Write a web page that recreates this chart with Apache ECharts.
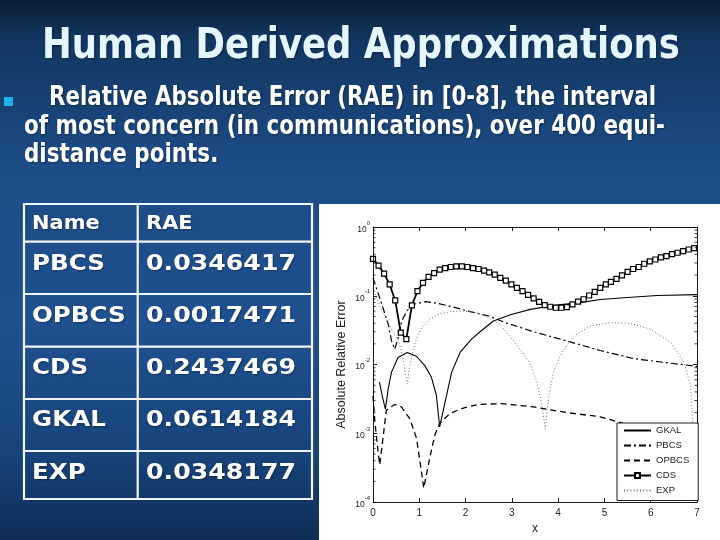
<!DOCTYPE html>
<html><head><meta charset="utf-8">
<script src="https://cdn.jsdelivr.net/npm/echarts@6/dist/echarts.min.js"></script>
<style>html,body{margin:0;padding:0;background:#163f70;}#c{width:720px;height:540px;}</style>
</head><body><div id="c"></div>
<script>
// ---------- text content ----------
const titleText = 'Human Derived Approximations';
const bulletLines = ['Relative Absolute Error (RAE) in [0-8], the interval',
  'of most concern (in communications), over 400 equi-',
  'distance points.'];
const tableHeader = ['Name', 'RAE'];
const tableNames = ['PBCS', 'OPBCS', 'CDS', 'GKAL', 'EXP'];
const tableRAE = ['0.0346417', '0.0017471', '0.2437469', '0.0614184', '0.0348177'];

// ---------- chart data ----------
const seriesNames = ['GKAL', 'PBCS', 'OPBCS', 'CDS', 'EXP'];

const gkalX = [0.14, 0.2, 0.267, 0.33, 0.40, 0.54, 0.74, 0.94, 1.12, 1.26, 1.37, 1.44, 1.55, 1.70, 1.88, 2.13, 2.32, 2.60, 2.97, 3.40, 3.90, 4.48, 4.91, 5.42, 6.14, 7.0];
const gkalY = [0.00555, 0.0035, 0.00224, 0.0045, 0.00776, 0.0127, 0.0150, 0.0132, 0.00964, 0.0066, 0.00355, 0.00124, 0.0027, 0.00776, 0.015, 0.0234, 0.0302, 0.043, 0.053, 0.0634, 0.0724, 0.0794, 0.0885, 0.0935, 0.101, 0.104];

const pbcsX = [0, 0.1, 0.2, 0.33, 0.40, 0.47, 0.55, 0.62, 0.73, 0.87, 1.13, 1.38, 1.74, 2.10, 2.50, 2.86, 3.47, 4.19, 4.91, 5.63, 6.36, 7.0];
const pbcsY = [0.182, 0.115, 0.072, 0.0385, 0.0221, 0.0168, 0.025, 0.043, 0.06, 0.075, 0.082, 0.078, 0.0685, 0.0587, 0.0508, 0.0407, 0.03, 0.022, 0.016, 0.0122, 0.0106, 0.0094];

const opbcsX = [0, 0.04, 0.093, 0.145, 0.216, 0.288, 0.47, 0.614, 0.794, 0.94, 1.046, 1.097, 1.227, 1.335, 1.44, 1.66, 1.91, 2.27, 2.78, 3.47, 4.19, 4.91, 5.4, 6.0, 6.5, 7.0];
const opbcsY = [0.0035, 0.0015, 0.00068, 0.00035, 0.00085, 0.00216, 0.00263, 0.00242, 0.00164, 0.00085, 0.00028, 0.00016, 0.00044, 0.00094, 0.00139, 0.00194, 0.00229, 0.00263, 0.0027, 0.00242, 0.002, 0.00174, 0.0014, 0.0012, 0.00105, 0.0009];

const cdsX = [0, 0.12, 0.24, 0.36, 0.48, 0.60, 0.72, 0.84, 0.96, 1.08, 1.20, 1.32, 1.44, 1.56, 1.68, 1.80, 1.92, 2.04, 2.16, 2.28, 2.40, 2.51, 2.63, 2.75, 2.87, 2.99, 3.11, 3.23, 3.35, 3.47, 3.59, 3.71, 3.83, 3.95, 4.07, 4.19, 4.31, 4.43, 4.55, 4.67, 4.79, 4.91, 5.03, 5.14, 5.26, 5.38, 5.50, 5.62, 5.74, 5.86, 5.98, 6.10, 6.22, 6.34, 6.46, 6.58, 6.70, 6.82, 6.94];
const cdsY = [0.345, 0.274, 0.21, 0.146, 0.0855, 0.0292, 0.0234, 0.0724, 0.117, 0.154, 0.188, 0.214, 0.24, 0.253, 0.262, 0.268, 0.268, 0.262, 0.253, 0.245, 0.232, 0.219, 0.203, 0.182, 0.166, 0.146, 0.13, 0.117, 0.103, 0.0914, 0.0818, 0.0732, 0.0693, 0.067, 0.067, 0.0685, 0.075, 0.082, 0.089, 0.101, 0.114, 0.13, 0.146, 0.159, 0.176, 0.198, 0.222, 0.245, 0.262, 0.292, 0.316, 0.337, 0.361, 0.378, 0.404, 0.422, 0.446, 0.471, 0.492];

const expX = [0, 0.15, 0.26, 0.37, 0.47, 0.56, 0.64, 0.70, 0.74, 0.79, 0.86, 0.96, 1.05, 1.23, 1.45, 1.70, 1.95, 2.20, 2.45, 2.75, 3.04, 3.25, 3.40, 3.54, 3.65, 3.72, 3.79, 3.90, 4.08, 4.34, 4.70, 5.13, 5.56, 5.99, 6.43, 6.72, 6.86, 6.92];
const expY = [0.13, 0.072, 0.05, 0.036, 0.027, 0.0215, 0.013, 0.0075, 0.0052, 0.009, 0.016, 0.026, 0.034, 0.046, 0.055, 0.059, 0.06, 0.058, 0.05, 0.038, 0.022, 0.0142, 0.0102, 0.0056, 0.0026, 0.00115, 0.0032, 0.0078, 0.015, 0.0261, 0.0364, 0.0407, 0.0398, 0.0327, 0.021, 0.0108, 0.005, 0.0011];

const decades = [1e-4, 1e-3, 1e-2, 1e-1];
const minorMultipliers = [2, 3, 4, 5, 6, 7, 8, 9];

// ---------- helpers ----------
const zip = (xs, ys) => xs.map((x, i) => [x, ys[i]]);
const mctx = document.createElement('canvas').getContext('2d');
function measure(text, font) { mctx.font = font; return mctx.measureText(text).width; }

const SLIDE_FONT = '"DejaVu Sans"';
const PLOT_FONT = '"Liberation Sans", Arial, sans-serif';

function fitText(text, left, baseline, size, targetW, fill, scaleOverride) {
  const font = 'bold ' + size + 'px ' + SLIDE_FONT;
  const s = scaleOverride || targetW / measure(text, font);
  return {
    type: 'text', x: left, y: baseline - size * 0.36, scaleX: s, z: 5,
    style: { text: text, x: 0, y: 0, font: font, fill: fill, textAlign: 'left', textVerticalAlign: 'middle',
      textShadowColor: 'rgba(0,0,0,0.35)', textShadowBlur: 2, textShadowOffsetX: 1, textShadowOffsetY: 1 }
  };
}

const graphics = [];
// background
graphics.push({ type: 'rect', z: -10, shape: { x: 0, y: 0, width: 720, height: 540 },
  style: { fill: new echarts.graphic.LinearGradient(0, 0, 0, 1, [
    { offset: 0, color: '#0a1c34' }, { offset: 0.07, color: '#123660' },
    { offset: 0.3, color: '#1d4c86' }, { offset: 0.6, color: '#1f5190' },
    { offset: 0.85, color: '#174379' }, { offset: 1, color: '#0f2e57' }]) } });
// white chart panel
graphics.push({ type: 'rect', z: -9, shape: { x: 319, y: 204, width: 401, height: 336 }, style: { fill: '#ffffff' } });

// title
graphics.push(fitText(titleText, 42, 62, 42, 638, '#e4f6ff'));
// bullet
graphics.push({ type: 'rect', z: 5, shape: { x: 4, y: 97, width: 9, height: 9 }, style: { fill: '#1cb4e8' } });
graphics.push(fitText(bulletLines[0], 49, 108, 26, 607, '#ffffff'));
const bodyScale = 641 / measure(bulletLines[1], 'bold 26px ' + SLIDE_FONT);
graphics.push(fitText(bulletLines[1], 24, 137, 26, 641, '#ffffff'));
graphics.push(fitText(bulletLines[2], 24, 165, 26, 0, '#ffffff', bodyScale));

// table
const tL = 24, tR = 312, tT = 204, tB = 499, tMid = 137.7;
const rowLines = [241.7, 294, 346.7, 399, 451];
const tableStroke = { stroke: '#f2f6fb', lineWidth: 2.2, fill: null };
graphics.push({ type: 'rect', z: 4, shape: { x: tL, y: tT, width: tR - tL, height: tB - tT }, style: tableStroke });
rowLines.forEach(y => graphics.push({ type: 'line', z: 4, shape: { x1: tL, y1: y, x2: tR, y2: y }, style: tableStroke }));
graphics.push({ type: 'line', z: 4, shape: { x1: tMid, y1: tT, x2: tMid, y2: tB }, style: tableStroke });

const headScale = 67.7 / measure(tableHeader[0], 'bold 20px ' + SLIDE_FONT);
graphics.push(fitText(tableHeader[0], 32, 231, 20, 0, '#ffffff', headScale));
graphics.push(fitText(tableHeader[1], 146, 231, 20, 0, '#ffffff', headScale));
const nameScale = 93.7 / measure('OPBCS', 'bold 22px ' + SLIDE_FONT);
const valScale = 150 / measure(tableRAE[0], 'bold 22px ' + SLIDE_FONT);
const rowBaselines = [272.3, 324.3, 376.7, 428.3, 481];
tableNames.forEach((n, i) => {
  graphics.push(fitText(n, 32, rowBaselines[i], 22, 0, '#ffffff', nameScale));
  graphics.push(fitText(tableRAE[i], 146, rowBaselines[i], 22, 0, '#ffffff', valScale));
});

// ---------- chart ----------
const minorTicks = [];
decades.forEach(d => minorMultipliers.forEach(m => minorTicks.push([0, d * m])));

const axisCommon = {
  min: 0, max: 7, interval: 1, z: 5,
  axisLine: { show: true, onZero: false, lineStyle: { color: '#000', width: 0.9 } },
  axisTick: { show: true, inside: true, length: 4, lineStyle: { color: '#000', width: 0.9 } },
  splitLine: { show: false }
};
const yCommon = {
  type: 'log', logBase: 10, min: 1e-4, max: 1, splitNumber: 4, z: 5,
  axisLine: { show: true, onZero: false, lineStyle: { color: '#000', width: 0.9 } },
  axisTick: { show: true, inside: true, length: 4, lineStyle: { color: '#000', width: 0.9 } },
  splitLine: { show: false }
};

const hiddenSymbol = { opacity: 0 };
const option = {
  animation: false,
  graphic: graphics,
  textStyle: { fontFamily: PLOT_FONT },
  grid: { left: 373, top: 227, width: 324, height: 277, containLabel: false },
  xAxis: [
    Object.assign({}, axisCommon, { type: 'value', position: 'bottom',
      axisLabel: { show: true, color: '#222', fontSize: 10, margin: 6, fontFamily: PLOT_FONT },
      name: 'x', nameLocation: 'middle', nameGap: 18,
      nameTextStyle: { color: '#222', fontSize: 12, fontFamily: PLOT_FONT } }),
    Object.assign({}, axisCommon, { type: 'value', position: 'top', axisLabel: { show: false } })
  ],
  yAxis: [
    Object.assign({}, yCommon, { position: 'left',
      name: 'Absolute Relative Error', nameLocation: 'middle', nameGap: 25,
      nameTextStyle: { color: '#222', fontSize: 12.5, fontFamily: PLOT_FONT },
      axisLabel: { show: true, margin: 3, color: '#222',
        formatter: v => '{b|10}{s|' + Math.round(Math.log10(v)) + '}',
        rich: { b: { fontSize: 8.5, color: '#222', lineHeight: 14, verticalAlign: 'bottom', fontFamily: PLOT_FONT },
                s: { fontSize: 6, color: '#222', lineHeight: 14, verticalAlign: 'top', fontFamily: PLOT_FONT } } } }),
    Object.assign({}, yCommon, { position: 'right', axisLabel: { show: false } })
  ],
  legend: {
    data: [
      { name: 'GKAL', itemStyle: hiddenSymbol },
      { name: 'PBCS', itemStyle: hiddenSymbol },
      { name: 'OPBCS', itemStyle: hiddenSymbol },
      { name: 'CDS' },
      { name: 'EXP', itemStyle: hiddenSymbol }
    ],
    orient: 'vertical', left: 617, top: 423, z: 10,
    backgroundColor: '#ffffff', borderColor: '#000', borderWidth: 0.9,
    padding: [2, 9, 4.5, 6], itemWidth: 27, itemHeight: 6, itemGap: 4,
    textStyle: { fontSize: 9.5, lineHeight: 11, color: '#222', fontFamily: PLOT_FONT },
    selectedMode: false
  },
  series: [
    { name: 'GKAL', type: 'line', data: zip(gkalX, gkalY), symbol: 'none', z: 3,
      lineStyle: { color: '#000', width: 1.1, type: 'solid' }, itemStyle: { color: '#000' } },
    { name: 'PBCS', type: 'line', data: zip(pbcsX, pbcsY), symbol: 'none', z: 3,
      lineStyle: { color: '#000', width: 1.2, type: [7, 3, 2, 3] }, itemStyle: { color: '#000' } },
    { name: 'OPBCS', type: 'line', data: zip(opbcsX, opbcsY), symbol: 'none', z: 3,
      lineStyle: { color: '#000', width: 1.3, type: [6, 4] }, itemStyle: { color: '#000' } },
    { name: 'CDS', type: 'line', data: zip(cdsX, cdsY), symbol: 'rect', symbolSize: 5, z: 4,
      lineStyle: { color: '#000', width: 1.8 }, itemStyle: { color: '#fff', borderColor: '#000', borderWidth: 1.2 } },
    { name: 'EXP', type: 'line', data: zip(expX, expY), symbol: 'none', z: 3,
      lineStyle: { color: '#707070', width: 1, type: [1, 2.2] }, itemStyle: { color: '#707070' } },
    { name: 'minorTicks', type: 'custom', data: minorTicks, silent: true, z: 5,
      renderItem: (params, api) => {
        const v = api.value(1);
        const pL = api.coord([0, v]);
        const pR = api.coord([7, v]);
        return { type: 'group', children: [
          { type: 'line', shape: { x1: pL[0], y1: pL[1], x2: pL[0] + 2.5, y2: pL[1] }, style: { stroke: '#000', lineWidth: 0.8 } },
          { type: 'line', shape: { x1: pR[0], y1: pR[1], x2: pR[0] - 2.5, y2: pR[1] }, style: { stroke: '#000', lineWidth: 0.8 } }
        ] };
      } }
  ]
};

const chart = echarts.init(document.getElementById('c'), null, { renderer: 'canvas' });
chart.setOption(option);
</script>
</body></html>
